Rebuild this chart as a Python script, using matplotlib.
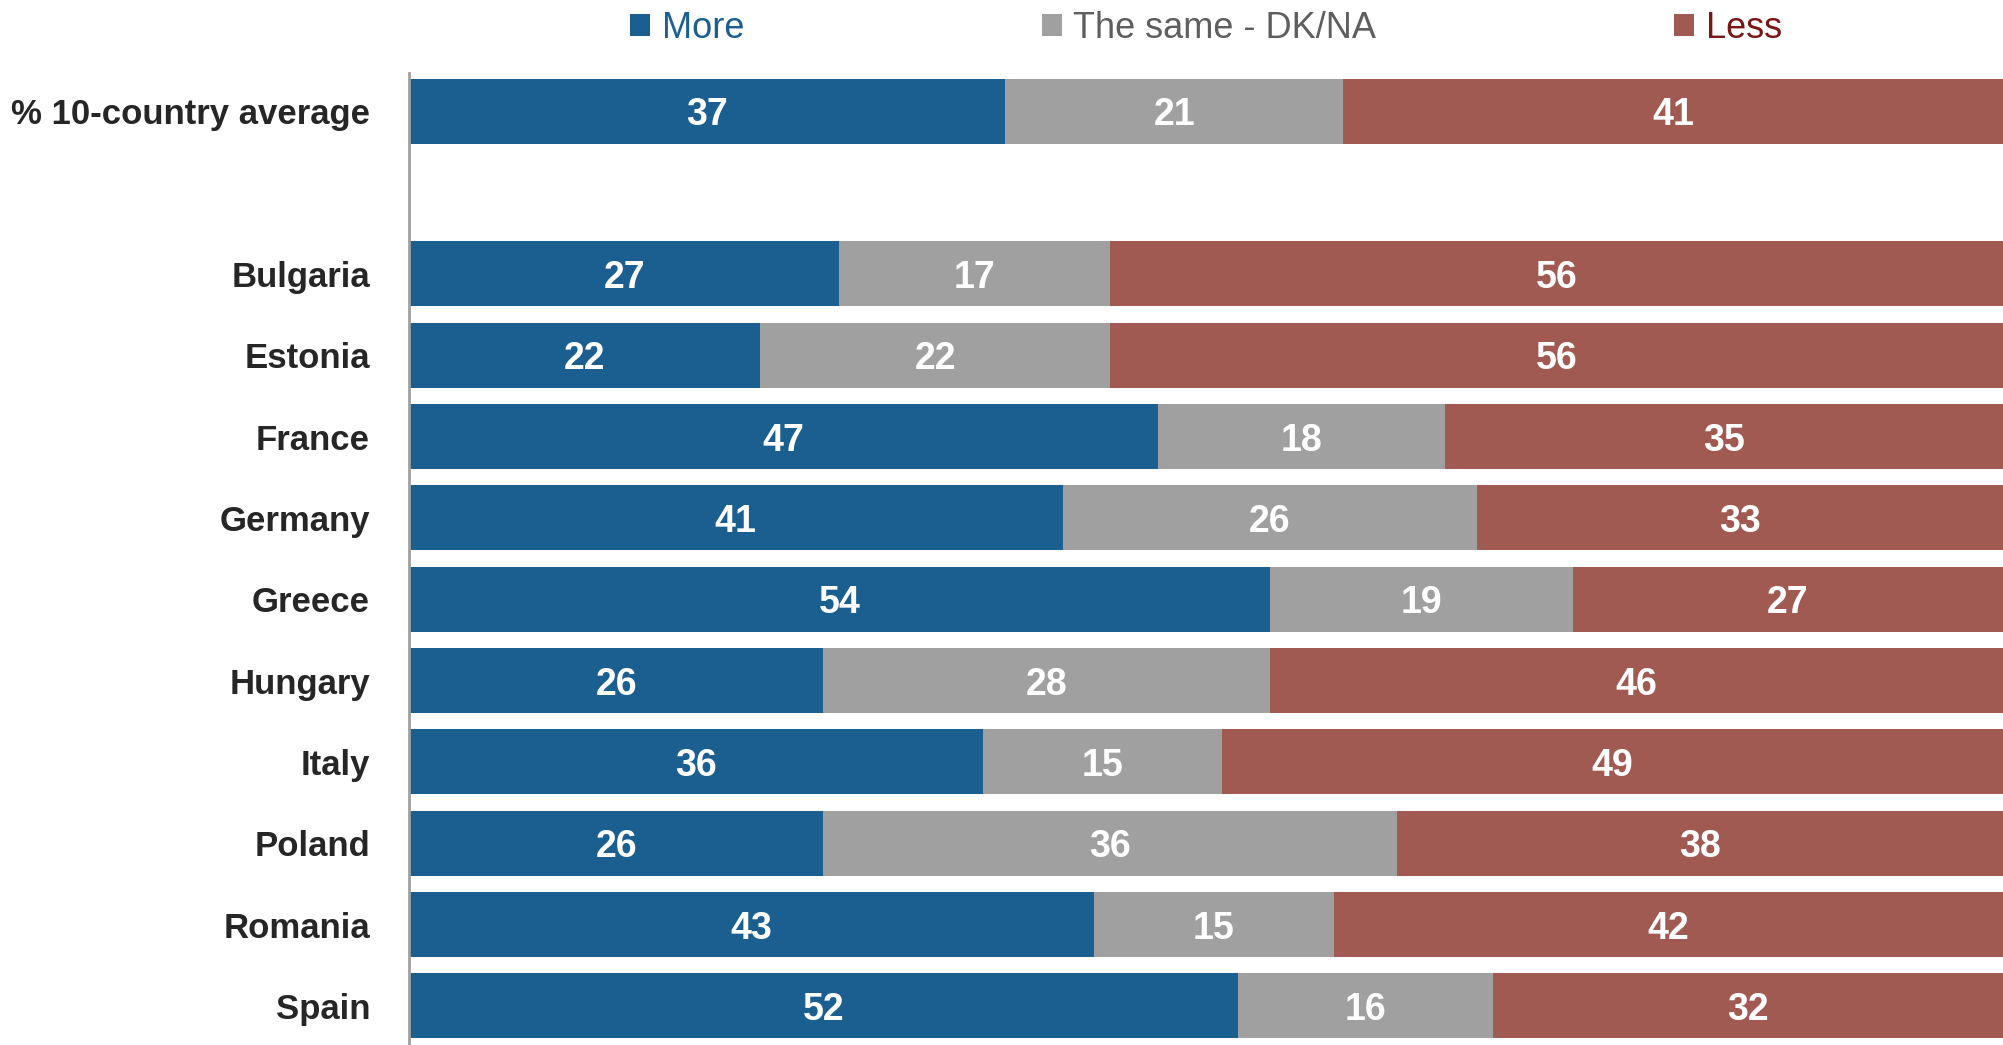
import numpy as np
import matplotlib
matplotlib.use("Agg")
import matplotlib.pyplot as plt
from matplotlib import font_manager

# ------ donnees -------------------------------------------
pays = ["% 10-country average", "", "Bulgaria", "Estonia", "France", "Germany",
        "Greece", "Hungary", "Italy", "Poland", "Romania", "Spain"]
plus = [37.4, np.nan, 27, 22, 47, 41, 54, 26, 36, 26, 43, 52]
pareil = [21.2, np.nan, 17, 22, 18, 26, 19, 28, 15, 36, 15, 16]
moins = [41.4, np.nan, 56, 56, 35, 33, 27, 46, 49, 38, 42, 32]
series = ["More", "The same - DK/NA", "Less"]
# ----------------------------------------------------------

couleurs = ["#1b5f91", "#a0a0a0", "#a05a52"]
couleurs_txt = ["#1b5f91", "#5e5e5e", "#7a1616"]

noms = {f.name for f in font_manager.fontManager.ttflist}
if "Liberation Sans Narrow" in noms:
    police = "Liberation Sans Narrow"
else:
    police = "Liberation Sans"
plt.rcParams['font.family'] = [police, 'DejaVu Sans']

fig = plt.figure(figsize=(20.03, 10.45), dpi=100)
ax = fig.add_axes([409/2003, 0.0, 1 - 409/2003, (1045-73)/1045])

y = np.arange(len(pays))
gauche = np.zeros(len(pays))
for vals, coul, nom in zip([plus, pareil, moins], couleurs, series):
    v = np.array(vals, dtype=float)
    ax.barh(y, v, left=gauche, height=0.8, color=coul, label=nom)
    for yy, g, w in zip(y, gauche, v):
        if np.isnan(w):
            continue
        ax.text(g + w/2, yy + 0.05, "%.0f" % w, ha="center", va="center",
                color="white", fontsize=27, fontweight="bold")
    gauche = gauche + np.nan_to_num(v)

ax.set_xlim(0, 100)
ax.set_ylim(11.48, -0.47)
ax.set_yticks(y)
ax.set_yticklabels(pays, fontsize=25, fontweight="bold", color="#262626")
ax.tick_params(axis="y", length=0, pad=28)
ax.set_xticks([])
for s in ["top", "right", "bottom"]:
    ax.spines[s].set_visible(False)
ax.spines["left"].set_color("#a0a0a0")
ax.spines["left"].set_linewidth(2)

leg = ax.legend(loc="center", bbox_to_anchor=(0.5, 1 + 45/972), ncol=3,
                frameon=False, fontsize=26, handlelength=0.55, handleheight=0.55,
                handletextpad=0.32, columnspacing=8.25, borderaxespad=0)
for t, c in zip(leg.get_texts(), couleurs_txt):
    t.set_color(c)

plt.savefig("out.png", dpi=100)
